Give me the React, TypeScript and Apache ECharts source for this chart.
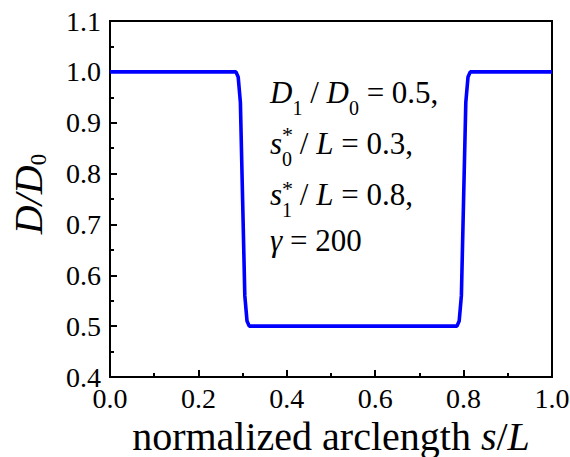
import React, { useEffect, useRef } from "react";
import * as echarts from "echarts";

// Diameter profile along the normalized arclength
const sValues = [0, 0.285, 0.29, 0.295, 0.3, 0.305, 0.31, 0.315, 0.785, 0.79, 0.795, 0.8, 0.805, 0.81, 0.815, 1.0];
const dValues = [1.0, 1.0, 0.99, 0.94, 0.75, 0.56, 0.51, 0.5, 0.5, 0.51, 0.56, 0.75, 0.94, 0.99, 1.0, 1.0];

const xTicks = { min: 0, max: 1, interval: 0.2 };
const yTicks = { min: 0.4, max: 1.1, interval: 0.1 };

const FONT = "Liberation Serif";

export default function App() {
  const ref = useRef<HTMLDivElement>(null);

  useEffect(() => {
    if (!ref.current) return;
    const chart = echarts.init(ref.current, undefined, { renderer: "svg" });

    const annoRich = {
      m: { fontFamily: FONT, fontSize: 31, lineHeight: 51, color: "#000" },
      i: { fontFamily: FONT, fontSize: 31, lineHeight: 51, fontStyle: "italic", color: "#000" },
      sub: { fontFamily: FONT, fontSize: 20, lineHeight: 30, verticalAlign: "bottom", color: "#000" },
    };

    chart.setOption({
      animation: false,
      backgroundColor: "#fff",
      grid: {
        left: 110,
        top: 21,
        right: 18,
        bottom: 80,
        outerBoundsMode: "none",
        show: true,
        borderColor: "#000",
        borderWidth: 2,
        backgroundColor: "transparent",
      },
      xAxis: {
        type: "value",
        min: xTicks.min,
        max: xTicks.max,
        interval: xTicks.interval,
        name: "{m|normalized arclength }{i|s}{m|/}{i|L}",
        nameLocation: "middle",
        nameGap: 38,
        nameTextStyle: {
          rich: {
            m: { fontFamily: FONT, fontSize: 40, lineHeight: 40, color: "#000" },
            i: { fontFamily: FONT, fontSize: 40, lineHeight: 40, fontStyle: "italic", color: "#000" },
          },
        },
        axisLine: { show: true, onZero: false, lineStyle: { color: "#000", width: 2 } },
        axisTick: { show: true, inside: true, length: 7, lineStyle: { color: "#000", width: 2 } },
        minorTick: { show: true, splitNumber: 2, length: 4, lineStyle: { color: "#000", width: 2 } },
        splitLine: { show: false },
        axisLabel: {
          fontFamily: FONT,
          fontSize: 28,
          color: "#000",
          margin: 7,
          formatter: (v: number) => v.toFixed(1),
        },
      },
      yAxis: {
        type: "value",
        min: yTicks.min,
        max: yTicks.max,
        interval: yTicks.interval,
        name: "{i|D/D}{sub|0}",
        nameLocation: "middle",
        nameRotate: 90,
        nameGap: 60,
        nameTextStyle: {
          padding: [0, 0, 0, 10],
          rich: {
            i: { fontFamily: FONT, fontSize: 40, lineHeight: 44, fontStyle: "italic", color: "#000" },
            sub: { fontFamily: FONT, fontSize: 23, lineHeight: 10, verticalAlign: "bottom", color: "#000" },
          },
        },
        axisLine: { show: true, onZero: false, lineStyle: { color: "#000", width: 2 } },
        axisTick: { show: true, inside: true, length: 7, lineStyle: { color: "#000", width: 2 } },
        minorTick: { show: true, splitNumber: 2, length: 4, lineStyle: { color: "#000", width: 2 } },
        splitLine: { show: false },
        axisLabel: {
          fontFamily: FONT,
          fontSize: 28,
          color: "#000",
          margin: 9,
          formatter: (v: number) => v.toFixed(1),
        },
      },
      series: [
        {
          type: "line",
          data: sValues.map((s, k) => [s, dValues[k]]),
          showSymbol: false,
          lineStyle: { color: "#0000ff", width: 3.6 },
          itemStyle: { color: "#0000ff" },
          z: 3,
        },
      ],
      graphic: [
        {
          type: "text",
          left: 270,
          top: 77,
          style: {
            text: [
              "{i|D}{sub|1}{m| / }{i|D}{sub|0}{m| = 0.5,}",
              "{i|s}{sub|0}{m| / }{i|L}{m| = 0.3,}",
              "{i|s}{sub|1}{m| / }{i|L}{m| = 0.8,}",
            ].join("\n"),
            rich: annoRich,
          },
        },
        {
          type: "text",
          left: 270,
          top: 225,
          style: {
            text: "{i|γ}{m| = 200}",
            rich: annoRich,
          },
        },
        {
          type: "text",
          x: 282,
          y: 134,
          style: { text: "*", fontFamily: FONT, fontSize: 22, lineHeight: 10, fill: "#000", verticalAlign: "middle" },
        },
        {
          type: "text",
          x: 282,
          y: 188,
          style: { text: "*", fontFamily: FONT, fontSize: 22, lineHeight: 10, fill: "#000", verticalAlign: "middle" },
        },
      ],
    });

    return () => chart.dispose();
  }, []);

  return <div ref={ref} style={{ position: "fixed", left: 0, top: 0, width: 570, height: 457 }} />;
}
